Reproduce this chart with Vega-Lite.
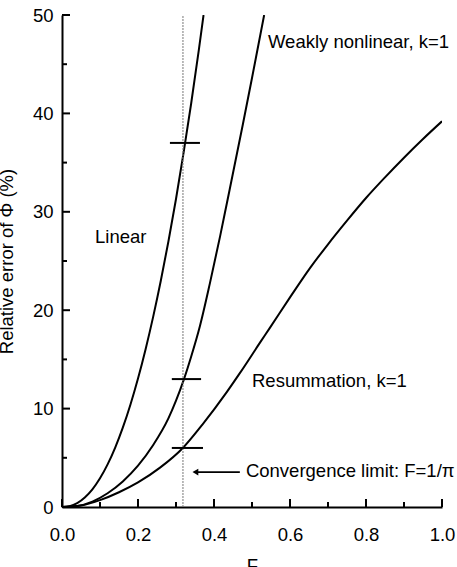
{
  "$schema": "https://vega.github.io/schema/vega-lite/v6.json",
  "width": 380,
  "height": 492,
  "autosize": {"type": "none"},
  "padding": {"left": 62, "top": 15, "right": 15, "bottom": 60},
  "background": "white",
  "config": {
    "view": {"stroke": null},
    "font": "Liberation Sans",
    "axis": {
      "grid": false,
      "domainColor": "black",
      "domainWidth": 2,
      "labelColor": "black",
      "labelFont": "Liberation Sans",
      "labelFontSize": 18.5,
      "titleFont": "Liberation Sans",
      "titleFontSize": 18.5,
      "titleFontWeight": "normal",
      "titleColor": "black",
      "labelFlush": false,
      "labelOverlap": false,
      "zindex": 1
    }
  },
  "datasets": {
    "curves": [
      {"series": "Linear", "F": 0, "v": 0},
      {"series": "Linear", "F": 0.02, "v": 0.09},
      {"series": "Linear", "F": 0.04, "v": 0.4},
      {"series": "Linear", "F": 0.06, "v": 0.97},
      {"series": "Linear", "F": 0.08, "v": 1.8},
      {"series": "Linear", "F": 0.1, "v": 2.92},
      {"series": "Linear", "F": 0.12, "v": 4.33},
      {"series": "Linear", "F": 0.14, "v": 6.04},
      {"series": "Linear", "F": 0.16, "v": 8.06},
      {"series": "Linear", "F": 0.18, "v": 10.39},
      {"series": "Linear", "F": 0.2, "v": 13.05},
      {"series": "Linear", "F": 0.22, "v": 16.04},
      {"series": "Linear", "F": 0.24, "v": 19.35},
      {"series": "Linear", "F": 0.26, "v": 22.99},
      {"series": "Linear", "F": 0.28, "v": 26.98},
      {"series": "Linear", "F": 0.3, "v": 31.3},
      {"series": "Linear", "F": 0.32, "v": 36.01},
      {"series": "Linear", "F": 0.34, "v": 41.03},
      {"series": "Linear", "F": 0.36, "v": 46.43},
      {"series": "Linear", "F": 0.3725, "v": 50},
      {"series": "Weak", "F": 0, "v": 0},
      {"series": "Weak", "F": 0.04, "v": 0.1},
      {"series": "Weak", "F": 0.08, "v": 0.55},
      {"series": "Weak", "F": 0.12, "v": 1.4},
      {"series": "Weak", "F": 0.16, "v": 2.6},
      {"series": "Weak", "F": 0.2, "v": 4.2},
      {"series": "Weak", "F": 0.24, "v": 6.3},
      {"series": "Weak", "F": 0.28, "v": 9.0},
      {"series": "Weak", "F": 0.3, "v": 10.8},
      {"series": "Weak", "F": 0.321, "v": 13.0},
      {"series": "Weak", "F": 0.34, "v": 15.3},
      {"series": "Weak", "F": 0.363, "v": 18.4},
      {"series": "Weak", "F": 0.389, "v": 22.7},
      {"series": "Weak", "F": 0.416, "v": 27.5},
      {"series": "Weak", "F": 0.434, "v": 30.9},
      {"series": "Weak", "F": 0.476, "v": 38.9},
      {"series": "Weak", "F": 0.5, "v": 43.6},
      {"series": "Weak", "F": 0.532, "v": 50},
      {"series": "Resum", "F": 0, "v": 0},
      {"series": "Resum", "F": 0.05, "v": 0.15},
      {"series": "Resum", "F": 0.1, "v": 0.7},
      {"series": "Resum", "F": 0.15, "v": 1.5},
      {"series": "Resum", "F": 0.2, "v": 2.5},
      {"series": "Resum", "F": 0.258, "v": 4.0},
      {"series": "Resum", "F": 0.318, "v": 6.0},
      {"series": "Resum", "F": 0.37, "v": 8.4},
      {"series": "Resum", "F": 0.434, "v": 11.7},
      {"series": "Resum", "F": 0.468, "v": 13.6},
      {"series": "Resum", "F": 0.521, "v": 16.7},
      {"series": "Resum", "F": 0.547, "v": 18.2},
      {"series": "Resum", "F": 0.6, "v": 21.3},
      {"series": "Resum", "F": 0.653, "v": 24.3},
      {"series": "Resum", "F": 0.7, "v": 26.7},
      {"series": "Resum", "F": 0.75, "v": 29.1},
      {"series": "Resum", "F": 0.8, "v": 31.4},
      {"series": "Resum", "F": 0.85, "v": 33.5},
      {"series": "Resum", "F": 0.9, "v": 35.5},
      {"series": "Resum", "F": 0.95, "v": 37.4},
      {"series": "Resum", "F": 1.0, "v": 39.2}
    ],
    "markers": [
      {"F1": 0.284, "F2": 0.363, "v": 37},
      {"F1": 0.289, "F2": 0.366, "v": 13},
      {"F1": 0.289, "F2": 0.371, "v": 6}
    ],
    "limit": [{"F": 0.3183, "lo": 0, "hi": 50}],
    "arrow": [{"F1": 0.355, "F2": 0.468, "v": 3.55}],
    "head": [{"F": 0.351, "v": 3.55}],
    "xmajor": [{"F": 0}, {"F": 0.2}, {"F": 0.4}, {"F": 0.6}, {"F": 0.8}, {"F": 1.0}],
    "xminor": [{"F": 0.1}, {"F": 0.3}, {"F": 0.5}, {"F": 0.7}, {"F": 0.9}],
    "ymajor": [{"v": 0}, {"v": 10}, {"v": 20}, {"v": 30}, {"v": 40}, {"v": 50}],
    "yminor": [{"v": 5}, {"v": 15}, {"v": 25}, {"v": 35}, {"v": 45}],
    "labels": [
      {"text": "Weakly nonlinear, k=1", "F": 0.542, "v": 46.6},
      {"text": "Linear", "F": 0.087, "v": 26.8},
      {"text": "Resummation, k=1", "F": 0.5, "v": 12.2},
      {"text": "Convergence limit: F=1/π", "F": 0.484, "v": 3.0}
    ]
  },
  "layer": [
    {
      "data": {"name": "curves"},
      "mark": {"type": "line", "color": "black", "strokeWidth": 2, "interpolate": "monotone", "clip": true},
      "encoding": {
        "x": {
          "field": "F", "type": "quantitative",
          "scale": {"domain": [0, 1], "nice": false, "zero": false},
          "axis": {
            "values": [0, 0.2, 0.4, 0.6, 0.8, 1.0],
            "format": ".1f",
            "ticks": false,
            "labelPadding": 18,
            "title": "F",
            "titlePadding": 13
          }
        },
        "y": {
          "field": "v", "type": "quantitative",
          "scale": {"domain": [0, 50], "nice": false, "zero": false},
          "axis": {
            "values": [0, 10, 20, 30, 40, 50],
            "ticks": false,
            "labelPadding": 9,
            "title": "Relative error of Φ (%)",
            "titlePadding": 16
          }
        },
        "detail": {"field": "series"}
      }
    },
    {
      "data": {"name": "xmajor"},
      "mark": {"type": "tick", "orient": "vertical", "color": "black", "size": 8, "thickness": 2, "yOffset": -4, "opacity": 1},
      "encoding": {
        "x": {"field": "F", "type": "quantitative", "axis": null},
        "y": {"datum": 0, "type": "quantitative", "axis": null}
      }
    },
    {
      "data": {"name": "xminor"},
      "mark": {"type": "tick", "orient": "vertical", "color": "black", "size": 5, "thickness": 2, "yOffset": -2.5, "opacity": 1},
      "encoding": {
        "x": {"field": "F", "type": "quantitative", "axis": null},
        "y": {"datum": 0, "type": "quantitative", "axis": null}
      }
    },
    {
      "data": {"name": "ymajor"},
      "mark": {"type": "tick", "orient": "horizontal", "color": "black", "size": 8, "thickness": 2, "xOffset": 4, "opacity": 1},
      "encoding": {
        "y": {"field": "v", "type": "quantitative", "axis": null},
        "x": {"datum": 0, "type": "quantitative", "axis": null}
      }
    },
    {
      "data": {"name": "yminor"},
      "mark": {"type": "tick", "orient": "horizontal", "color": "black", "size": 5, "thickness": 2, "xOffset": 2.5, "opacity": 1},
      "encoding": {
        "y": {"field": "v", "type": "quantitative", "axis": null},
        "x": {"datum": 0, "type": "quantitative", "axis": null}
      }
    },
    {
      "data": {"name": "limit"},
      "mark": {"type": "rule", "color": "#777777", "strokeWidth": 1, "strokeDash": [2, 1]},
      "encoding": {
        "x": {"field": "F", "type": "quantitative", "axis": null},
        "y": {"field": "lo", "type": "quantitative", "axis": null},
        "y2": {"field": "hi"}
      }
    },
    {
      "data": {"name": "markers"},
      "mark": {"type": "rule", "color": "black", "strokeWidth": 2},
      "encoding": {
        "x": {"field": "F1", "type": "quantitative", "axis": null},
        "x2": {"field": "F2"},
        "y": {"field": "v", "type": "quantitative", "axis": null}
      }
    },
    {
      "data": {"name": "arrow"},
      "mark": {"type": "rule", "color": "black", "strokeWidth": 1.8},
      "encoding": {
        "x": {"field": "F1", "type": "quantitative", "axis": null},
        "x2": {"field": "F2"},
        "y": {"field": "v", "type": "quantitative", "axis": null}
      }
    },
    {
      "data": {"name": "head"},
      "mark": {"type": "point", "shape": "triangle-left", "filled": true, "color": "black", "size": 45, "opacity": 1},
      "encoding": {
        "x": {"field": "F", "type": "quantitative", "axis": null},
        "y": {"field": "v", "type": "quantitative", "axis": null}
      }
    },
    {
      "data": {"name": "labels"},
      "mark": {"type": "text", "align": "left", "baseline": "alphabetic", "font": "Liberation Sans", "fontSize": 18.5, "color": "black"},
      "encoding": {
        "x": {"field": "F", "type": "quantitative", "axis": null},
        "y": {"field": "v", "type": "quantitative", "axis": null},
        "text": {"field": "text"}
      }
    }
  ],
  "resolve": {"axis": {"x": "independent", "y": "independent"}}
}
